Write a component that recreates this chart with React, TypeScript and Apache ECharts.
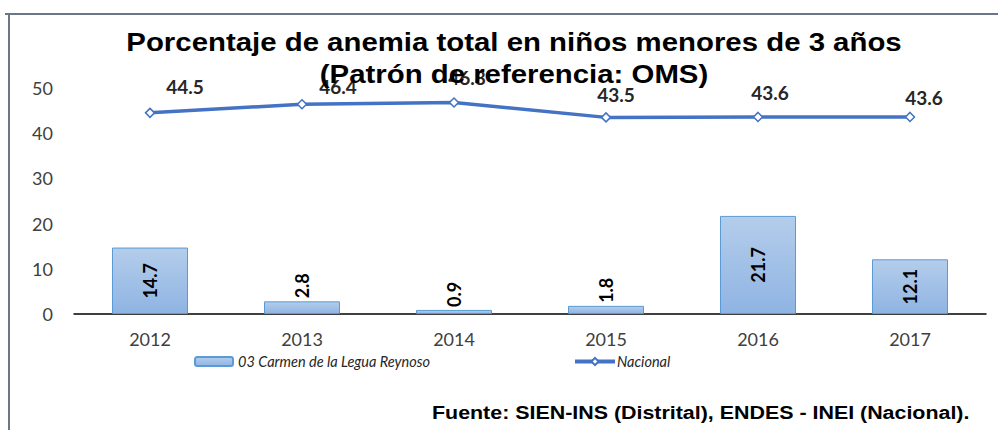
import React, { useEffect, useRef } from "react";
import * as echarts from "echarts";

const categories = ["2012", "2013", "2014", "2015", "2016", "2017"];
const carmenValues = [14.7, 2.8, 0.9, 1.8, 21.7, 12.1];
const nacionalValues = [44.5, 46.4, 46.8, 43.5, 43.6, 43.6];
const seriesNames = ["03 Carmen de la Legua Reynoso", "Nacional"];
const yTicks = { min: 0, max: 50, interval: 10 };
const titleLines = ["Porcentaje de anemia total en niños menores de 3 años", "(Patrón de referencia: OMS)"];
const footerText = "Fuente: SIEN-INS (Distrital), ENDES - INEI (Nacional).";

// label style offsets (layout only)
const lineLabelOffsets = [[35, -7], [36, 2], [13, -5], [10, -3], [12, -5], [14, 0]];

export default function App() {
  const ref = useRef<HTMLDivElement>(null);
  useEffect(() => {
    if (!ref.current) return;
    const chart = echarts.init(ref.current, null, { renderer: "svg" });
    const labelFont = "Lato, 'DejaVu Sans', sans-serif";
    const barData = carmenValues.map((v) => ({
      value: v,
      label:
        v < 5
          ? { position: "top", rotate: 90, align: "left", verticalAlign: "middle", distance: 3 }
          : { position: "inside", rotate: 90, align: "center", verticalAlign: "middle" },
    }));
    const lineData = nacionalValues.map((v, i) => ({
      value: v,
      label: { offset: lineLabelOffsets[i] },
    }));
    const legendText = {
      fontSize: 14.5,
      fontStyle: "italic",
      fontFamily: "Lato, 'DejaVu Sans', sans-serif",
      color: "#262626",
    };
    chart.setOption({
      animation: false,
      backgroundColor: "#ffffff",
      grid: { left: 74, right: 12, top: 88, bottom: 116, containLabel: false },
      xAxis: {
        type: "category",
        data: categories,
        axisLine: { lineStyle: { color: "#000000", width: 1.5 } },
        axisTick: { show: false },
        axisLabel: { color: "#404040", fontSize: 18, fontFamily: labelFont, margin: 16 },
      },
      yAxis: {
        type: "value",
        min: yTicks.min,
        max: yTicks.max,
        interval: yTicks.interval,
        axisLine: { show: false },
        axisTick: { show: false },
        splitLine: { show: false },
        axisLabel: { color: "#404040", fontSize: 18, fontFamily: labelFont, margin: 21 },
      },
      legend: [
        {
          left: 194,
          top: 354,
          padding: 0,
          itemWidth: 38,
          itemHeight: 9,
          textStyle: legendText,
          data: [seriesNames[0]],
        },
        {
          left: 573,
          top: 354,
          padding: 0,
          itemWidth: 40,
          itemHeight: 9,
          lineStyle: { width: 4, color: "#4472c4" },
          textStyle: { ...legendText, padding: [0, 0, 0, -3] },
          data: [seriesNames[1]],
        },
      ],
      series: [
        {
          name: seriesNames[0],
          type: "bar",
          barWidth: "50%",
          data: barData,
          itemStyle: {
            color: new echarts.graphic.LinearGradient(0, 0, 0, 1, [
              { offset: 0, color: "#b4cdeb" },
              { offset: 1, color: "#8fb4e3" },
            ]),
            borderColor: "#5b9bd5",
            borderWidth: 1,
          },
          label: {
            show: true,
            color: "#000000",
            fontSize: 18,
            fontWeight: "bold",
            fontFamily: labelFont,
          },
        },
        {
          name: seriesNames[1],
          type: "line",
          data: lineData,
          symbol: "diamond",
          symbolSize: 9,
          lineStyle: { color: "#4472c4", width: 3.5 },
          itemStyle: { color: "#ffffff", borderColor: "#4472c4", borderWidth: 1.5 },
          label: {
            show: true,
            position: "top",
            color: "#262626",
            fontSize: 19,
            fontWeight: "bold",
            fontFamily: labelFont,
          },
          z: 3,
        },
      ],
      graphic: [
        { type: "line", shape: { x1: 5, y1: 14, x2: 998, y2: 14 }, style: { stroke: "#6b7686", lineWidth: 2 } },
        { type: "line", shape: { x1: 9, y1: 14, x2: 9, y2: 430 }, style: { stroke: "#6b7686", lineWidth: 2 } },
        {
          type: "text",
          x: 514,
          y: 42,
          scaleX: 1.13,
          z: 100,
          style: {
            text: titleLines[0],
            fill: "#000000",
            font: "bold 26px 'Liberation Sans', Arial, sans-serif",
            align: "center",
            verticalAlign: "middle",
          },
        },
        {
          type: "text",
          x: 514,
          y: 74,
          scaleX: 1.13,
          z: 100,
          style: {
            text: titleLines[1],
            fill: "#000000",
            font: "bold 26px 'Liberation Sans', Arial, sans-serif",
            align: "center",
            verticalAlign: "middle",
          },
        },
        {
          type: "text",
          x: 432,
          y: 413,
          scaleX: 1.19,
          style: {
            text: footerText,
            fill: "#000000",
            font: "bold 18px 'Liberation Sans', Arial, sans-serif",
            align: "left",
            verticalAlign: "middle",
          },
        },
      ],
    });
    return () => chart.dispose();
  }, []);
  return (
    <div
      ref={ref}
      style={{ position: "fixed", left: 0, top: 0, width: 998, height: 430, background: "#fff" }}
    />
  );
}
